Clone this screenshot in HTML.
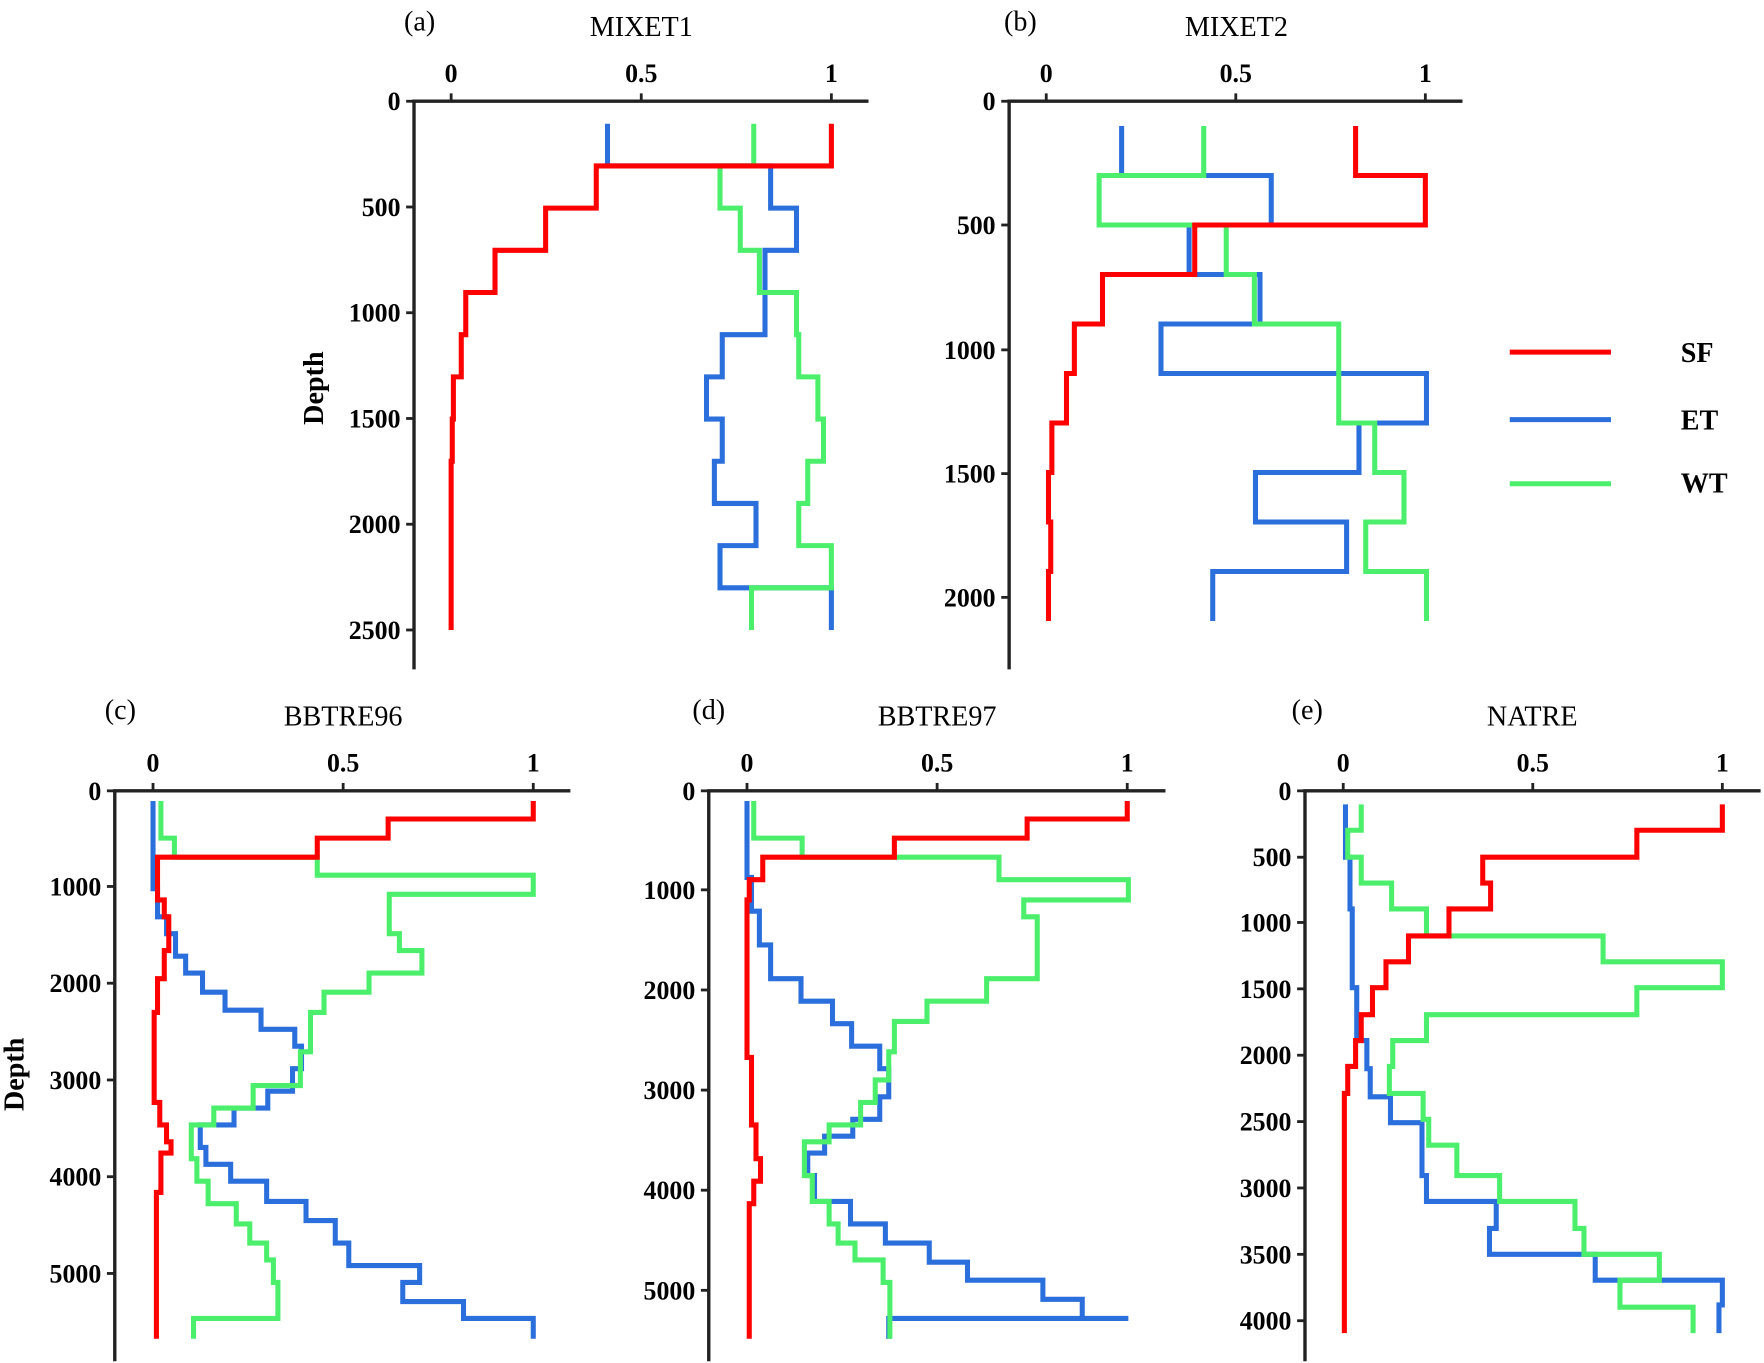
<!DOCTYPE html>
<html><head><meta charset="utf-8"><style>
html,body{margin:0;padding:0;background:#fff}
svg{display:block}
text{font-family:"Liberation Serif",serif}
</style></head><body>
<svg id="s" width="1764" height="1363" viewBox="0 0 1568 1211.6" xmlns="http://www.w3.org/2000/svg" font-family="Liberation Serif, serif">
<rect width="1568" height="1212" fill="#fff"/>
<g font-size="25" text-anchor="middle">
<text x="373" y="27">(a)</text><text x="570" y="32">MIXET1</text>
<text x="907" y="27">(b)</text><text x="1099" y="32">MIXET2</text>
<text x="107" y="639">(c)</text><text x="305" y="645">BBTRE96</text>
<text x="630" y="639">(d)</text><text x="833" y="645">BBTRE97</text>
<text x="1162" y="639">(e)</text><text x="1362" y="645">NATRE</text>
</g>
<g font-size="25" font-weight="bold">
<text transform="translate(287,345) rotate(-90)" text-anchor="middle">Depth</text>
<text transform="translate(21,955) rotate(-90)" text-anchor="middle">Depth</text>
<text x="1494" y="322">SF</text><text x="1494" y="382">ET</text><text x="1494" y="438">WT</text>
</g>
<g stroke-width="4.5"><line x1="1342" y1="313" x2="1432" y2="313" stroke="#ff0000"/>
<line x1="1342" y1="373" x2="1432" y2="373" stroke="#2a6fdb"/>
<line x1="1342" y1="430" x2="1432" y2="430" stroke="#4cef6c"/></g>
<g id="g"></g>
</svg>
<script>
var NS="http://www.w3.org/2000/svg",g=document.getElementById('g');
function el(t,a,txt){var e=document.createElementNS(NS,t);for(var k in a)e.setAttribute(k,a[k]);if(txt!==undefined)e.textContent=txt;g.appendChild(e);return e;}
var FF='Liberation Serif, serif';
function axes(ax,ay,ybot,xend,x0,x1,yt){
 el('line',{x1:ax,y1:ay,x2:ax,y2:ybot,stroke:'#222','stroke-width':3});
 el('line',{x1:ax-1.5,y1:ay,x2:xend,y2:ay,stroke:'#222','stroke-width':3});
 var xs=[[x0,'0'],[(x0+x1)/2,'0.5'],[x1,'1']];
 xs.forEach(function(t){el('line',{x1:t[0],y1:ay,x2:t[0],y2:ay-7,stroke:'#222','stroke-width':2.5});
  el('text',{x:t[0],y:ay-17,'text-anchor':'middle','font-size':23,'font-weight':'bold','font-family':FF},t[1]);});
 yt.forEach(function(t){el('line',{x1:ax,y1:t[0],x2:ax-7,y2:t[0],stroke:'#222','stroke-width':2.5});
  el('text',{x:ax-12,y:t[0]+8,'text-anchor':'end','font-size':23,'font-weight':'bold','font-family':FF},t[1]);});
}
function step(d,c){var p=[];d.forEach(function(s){p.push(s[0]+','+s[1]);p.push(s[0]+','+s[2]);});
 el('polyline',{points:p.join(' '),fill:'none',stroke:c,'stroke-width':4.5,'stroke-linejoin':'miter'});}
function rows(xs,y0,h){return xs.map(function(x,i){return [x,y0+i*h,y0+(i+1)*h];});}
function sp(y0,a){var o=[],y=y0;for(var i=0;i<a.length;i+=2){o.push([a[i],y,a[i+1]]);y=a[i+1];}return o;}
var R='#ff0000',B='#2a6fdb',G='#4cef6c';
// (a)
axes(368,90,595,772,401,739,[[90,'0'],[184,'500'],[278,'1000'],[372,'1500'],[466,'2000'],[560,'2500']]);
step(rows([540,685,708,680,680,642,628,642,635,672,640,739],110,37.5),B);
step(rows([670,640,658,675,708,710,727,732,718,710,739,668],110,37.5),G);
step(rows([739,530,485,440,414,410,403,402,401,401,401,401],110,37.5),R);
// (b)
axes(897,90,595,1300,930,1267,[[90,'0'],[200,'500'],[311,'1000'],[421,'1500'],[531,'2000']]);
step(rows([997,1130,1057,1120,1032,1268,1208,1116,1197,1078],112,44),B);
step(rows([1070,977,1090,1115,1190,1190,1222,1248,1214,1268],112,44),G);
step(rows([1205,1267,1062,980,955,948,935,932,934,932],112,44),R);
// (c)
axes(102,703,1210,507,136,474,[[703,'0'],[788,'1000'],[874,'2000'],[960,'3000'],[1046,'4000'],[1132,'5000']]);
step(sp(712,[136,790,140,815,148,830,156,850,165,865,180,882,200,898,232,915,262,930,268,950,260,970,238,985,208,1000,178,1020,183,1035,205,1050,237,1068,272,1085,298,1105,310,1125,373,1140,358,1157,412,1172,474,1190]),B);
step(sp(712,[143,745,155,762,282,778,474,795,346,830,355,845,375,865,328,882,288,900,276,935,267,965,225,985,190,1000,170,1030,175,1050,185,1070,210,1088,222,1105,237,1120,243,1140,247,1172,172,1190]),G);
step(sp(712,[474,728,345,745,282,762,140,800,146,815,150,845,146,870,140,900,137,980,142,1000,148,1015,152,1025,143,1060,139,1190]),R);
// (d)
axes(630,703,1210,1036,664,1002,[[703,'0'],[791,'1000'],[880,'2000'],[969,'3000'],[1058,'4000'],[1147,'5000']]);
step(sp(712,[664,780,668,810,675,840,685,870,712,890,740,910,757,930,782,950,790,975,782,995,758,1010,733,1025,718,1045,724,1068,756,1088,787,1105,826,1122,860,1138,927,1155,962,1172,1003,1172,790,1190]),B);
step(sp(712,[670,745,713,762,888,782,1003,800,910,815,922,870,877,890,824,908,795,935,790,960,778,980,765,1000,737,1015,715,1045,722,1068,737,1088,745,1105,760,1120,785,1140,791,1190]),G);
step(sp(712,[1002,728,913,745,795,762,678,782,666,800,664,940,668,1000,672,1030,676,1050,670,1070,666,1190]),R);
// (e)
axes(1160,703,1210,1565,1194,1531,[[703,'0'],[762,'500'],[820,'1000'],[879,'1500'],[938,'2000'],[997,'2500'],[1056,'3000'],[1115,'3500'],[1174,'4000']]);
step(sp(715,[1196,762,1200,808,1202,878,1206,925,1215,950,1218,975,1236,998,1264,1045,1268,1068,1330,1092,1324,1115,1418,1138,1531,1160,1528,1185]),B);
step(sp(715,[1210,738,1198,762,1210,785,1237,808,1268,832,1425,855,1531,878,1455,902,1268,925,1238,948,1235,972,1265,995,1270,1018,1295,1045,1333,1068,1400,1092,1408,1115,1475,1138,1440,1162,1505,1185]),G);
step(sp(715,[1531,738,1455,762,1318,785,1325,808,1288,832,1252,855,1232,878,1220,902,1210,925,1205,948,1198,972,1195,1185]),R);
</script>
</body></html>
